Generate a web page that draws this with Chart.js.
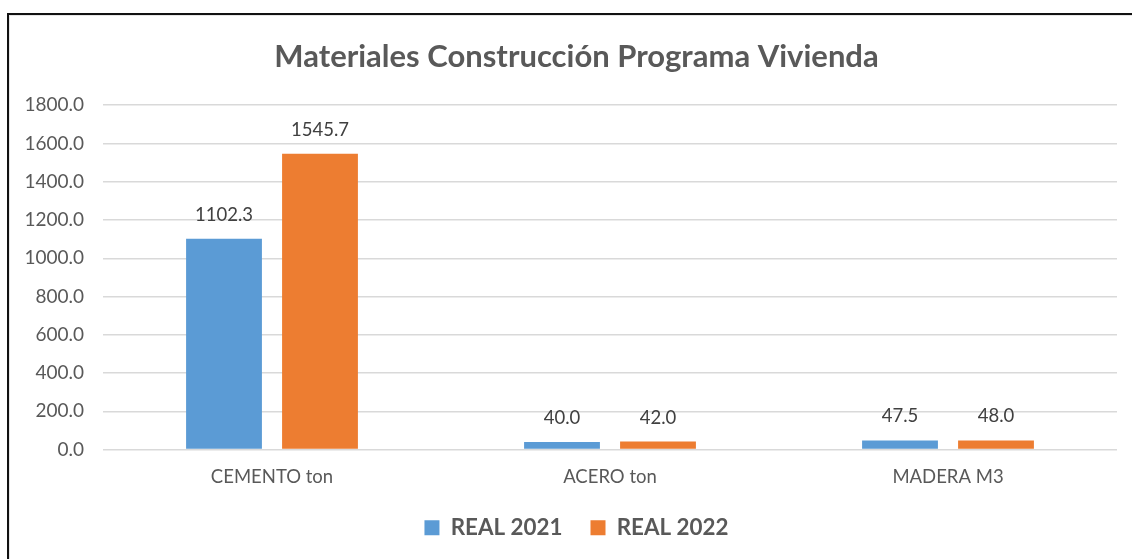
<!DOCTYPE html>
<html><head><meta charset="utf-8">
<script src="https://cdn.jsdelivr.net/npm/chart.js@4"></script>
<style>
html,body{margin:0;padding:0;background:#fff;overflow:hidden}
#wrap{position:relative;width:1132px;height:559px;overflow:hidden}
#frame{position:absolute;left:7px;top:13px;width:1200px;height:600px;border:2px solid #111;box-shadow:inset 1px 1px 0 #e6e6e6;pointer-events:none}
canvas{position:absolute;left:0;top:0}
</style></head><body>
<div id="wrap"><canvas id="c" width="1168" height="559"></canvas><div id="frame"></div></div>
<script>
const categories = ['CEMENTO ton', 'ACERO ton', 'MADERA M3'];
const real2021 = [1102.3, 40.0, 47.5];
const real2022 = [1545.7, 42.0, 48.0];
const seriesNames = ['REAL 2021', 'REAL 2022'];
const chartTitle = 'Materiales Construcción Programa Vivienda';

const FONT = 'Lato, "Open Sans", sans-serif';

const dataLabels = {
  id: 'dataLabels',
  afterDatasetsDraw(chart) {
    const ctx = chart.ctx;
    ctx.save();
    ctx.font = '18.5px ' + FONT;
    ctx.fillStyle = '#404040';
    ctx.textAlign = 'center';
    ctx.textBaseline = 'middle';
    chart.data.datasets.forEach((ds, di) => {
      const meta = chart.getDatasetMeta(di);
      meta.data.forEach((el, i) => {
        ctx.fillText(ds.data[i].toFixed(1), el.x, el.y - 24);
      });
    });
    ctx.restore();
  }
};

new Chart(document.getElementById('c'), {
  type: 'bar',
  data: {
    labels: categories,
    datasets: [
      { label: seriesNames[0], data: real2021, backgroundColor: '#5B9BD5', categoryPercentage: 0.568, barPercentage: 0.79 },
      { label: seriesNames[1], data: real2022, backgroundColor: '#ED7D31', categoryPercentage: 0.568, barPercentage: 0.79 }
    ]
  },
  options: {
    responsive: false,
    animation: false,
    devicePixelRatio: 1,
    layout: { padding: { left: 0, right: 15, top: 0, bottom: 10 } },
    plugins: {
      title: {
        display: true,
        text: chartTitle,
        color: '#595959',
        font: { family: FONT, size: 31, weight: 'bold', lineHeight: 1.2 },
        padding: { top: 38, bottom: 30 }
      },
      legend: {
        position: 'bottom',
        labels: {
          color: '#595959',
          font: { family: FONT, size: 22.4, weight: 'bold' },
          boxWidth: 15, boxHeight: 15, padding: 28
        }
      },
      tooltip: { enabled: false }
    },
    scales: {
      x: {
        grid: { display: false },
        border: { display: false },
        ticks: { color: '#595959', font: { family: FONT, size: 18.5 }, padding: 8 },
        afterFit(s) { s.height = 39; }
      },
      y: {
        min: 0, max: 1800,
        border: { display: false },
        grid: { color: '#D9D9D9', lineWidth: 1.5, drawTicks: false },
        ticks: { stepSize: 200, color: '#595959', font: { family: FONT, size: 19 }, padding: 19,
          callback: v => v.toFixed(1) },
        afterFit(s) { s.width = 103; }
      },
      yRight: {
        position: 'right',
        min: 0, max: 1800,
        grid: { display: false, drawTicks: false },
        border: { display: false },
        ticks: { display: false },
        afterFit(s) { s.width = 36; }
      }
    }
  },
  plugins: [dataLabels]
});
</script>
</body></html>
